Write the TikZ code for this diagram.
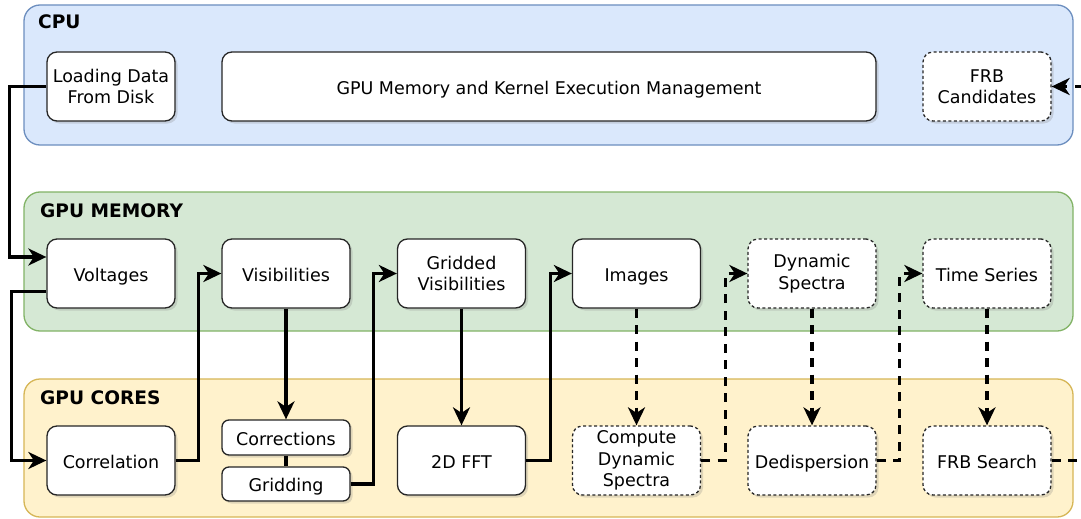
\documentclass[tikz,border=0pt]{standalone}
\usepackage{fontspec}
\setmainfont{DejaVu Sans}
\usetikzlibrary{arrows.meta,shadows}

\definecolor{cpufill}{HTML}{DAE8FC}
\definecolor{cpuline}{HTML}{6C8EBF}
\definecolor{memfill}{HTML}{D5E8D4}
\definecolor{memline}{HTML}{82B366}
\definecolor{corefill}{HTML}{FFF2CC}
\definecolor{coreline}{HTML}{D6B656}

\tikzset{
  lane/.style={rounded corners=16pt, line width=1.3pt, minimum width=1049pt, inner sep=0pt},
  lanetitle/.style={anchor=base west, inner sep=0pt, font=\fontsize{18.6}{20}\selectfont\bfseries},
  stage/.style={draw=black!85, line width=1.3pt, fill=white, rounded corners=10pt,
    minimum width=128pt, minimum height=69pt, inner sep=0pt, align=center,
    font=\fontsize{17.5}{21.5}\selectfont,
    drop shadow={shadow xshift=2.5pt, shadow yshift=-2.5pt, opacity=0.25}},
  pending/.style={stage, dash pattern=on 3pt off 2.5pt},
  oneline/.style={text height=17pt, text depth=2pt},
  flow/.style={line width=3.1pt, -{Stealth[length=18pt 0 0, width=17pt 0 0, inset=5.5pt 0]}},
  dflow/.style={flow, dash pattern=on 9pt off 7.5pt},
  link/.style={line width=3.1pt},
}

\begin{document}
\begin{tikzpicture}[x=1pt, y=-1pt]
  \path[clip] (0,0) rectangle (1081,519);
  \fill[white] (0,0) rectangle (1081,519);

  % swim lanes
  \node[lane, draw=cpuline, fill=cpufill, minimum height=140pt] (cpu) at (548.5,75) {};
  \node[lane, draw=memline, fill=memfill, minimum height=139pt] (mem) at (548.5,261.5) {};
  \node[lane, draw=coreline, fill=corefill, minimum height=138pt] (cores) at (548.5,448) {};
  \node[lanetitle] (cputitle) at (38,29) {CPU};
  \node[lanetitle] (memtitle) at (40,217) {GPU MEMORY};
  \node[lanetitle] (coretitle) at (40,404) {GPU CORES};

  % CPU stages
  \node[stage] (load) at (111,86.5) {Loading Data\\From Disk};
  \node[stage, oneline, minimum width=654pt] (mgmt) at (549,86.5) {GPU Memory and Kernel Execution Management};
  \node[pending] (cand) at (987,86.5) {FRB\\Candidates};

  % GPU memory buffers
  \node[stage, oneline] (volt) at (111,273.5) {Voltages};
  \node[stage, oneline] (vis) at (286,273.5) {Visibilities};
  \node[stage] (gvis) at (461.5,273.5) {Gridded\\Visibilities};
  \node[stage, oneline] (img) at (636.5,273.5) {Images};
  \node[pending] (dyn) at (812,273.5) {Dynamic\\Spectra};
  \node[pending, oneline] (ts) at (987,273.5) {Time Series};

  % GPU kernels
  \node[stage, oneline] (corr) at (111,460.5) {Correlation};
  \node[stage, oneline, minimum height=35pt, rounded corners=7pt] (fix) at (286,437.5) {Corrections};
  \node[stage, oneline, minimum height=34pt, rounded corners=7pt] (grid) at (286,484) {Gridding};
  \node[stage, oneline] (fft) at (461.5,460.5) {2D FFT};
  \node[pending] (cds) at (636.5,460.5) {Compute\\Dynamic\\Spectra};
  \node[pending, oneline] (dedisp) at (812,460.5) {Dedispersion};
  \node[pending, oneline] (search) at (987,460.5) {FRB Search};

  % imaging pipeline
  \draw[flow] (load.west) -- ++(-37,0) |- ([yshift=16.5pt]volt.west);
  \draw[flow] ([yshift=-18pt]volt.west) -- ++(-35,0) |- (corr.west);
  \draw[flow] (corr.east) -- ++(23,0) |- (vis.west);
  \draw[flow] (vis.south) -- (fix.north);
  \draw[link] (fix.south) -- (grid.north);
  \draw[flow] (grid.east) -- ++(23,0) |- (gvis.west);
  \draw[flow] (gvis.south) -- (fft.north);
  \draw[flow] (fft.east) -- ++(24,0) |- (img.west);

  % transient search pipeline
  \draw[dflow] (img.south) -- (cds.north);
  \draw[dflow] (cds.east) -- ++(24,0) |- (dyn.west);
  \draw[dflow] (dyn.south) -- (dedisp.north);
  \draw[dflow] (dedisp.east) -- ++(23,0) |- (ts.west);
  \draw[dflow] (ts.south) -- (search.north);
  \draw[dflow] (search.east) -- ++(60,0) |- (cand.east);
\end{tikzpicture}
\end{document}
